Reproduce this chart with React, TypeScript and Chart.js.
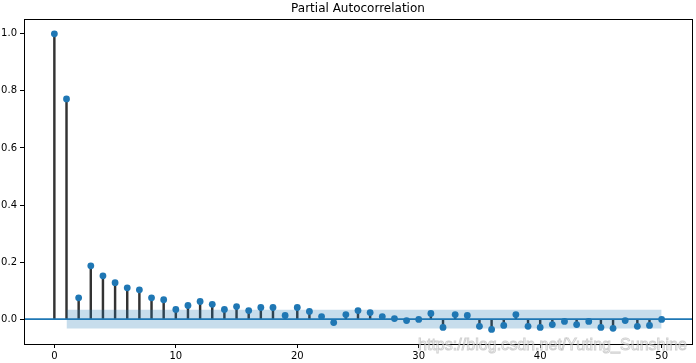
import React, { useEffect, useRef } from "react";
import { Chart, registerables } from "chart.js";

Chart.register(...registerables);

const lags = [
  0, 1, 2, 3, 4, 5, 6, 7, 8, 9, 10, 11, 12, 13, 14, 15, 16, 17, 18, 19, 20,
  21, 22, 23, 24, 25, 26, 27, 28, 29, 30, 31, 32, 33, 34, 35, 36, 37, 38, 39,
  40, 41, 42, 43, 44, 45, 46, 47, 48, 49, 50,
];
const pacfValues = [
  1.0, 0.772, 0.075, 0.187, 0.152, 0.128, 0.11, 0.103, 0.075, 0.068, 0.034,
  0.048, 0.062, 0.052, 0.034, 0.044, 0.03, 0.041, 0.041, 0.013, 0.041, 0.027,
  0.009, -0.012, 0.016, 0.03, 0.023, 0.009, 0.002, -0.005, -0.001, 0.02,
  -0.029, 0.016, 0.013, -0.025, -0.036, -0.022, 0.016, -0.025, -0.029, -0.019,
  -0.008, -0.019, -0.008, -0.029, -0.032, -0.005, -0.025, -0.022, -0.001,
];
const bandLags = [1, 50];
const bandUpper = [0.033, 0.033];
const bandLower = [-0.033, -0.033];
const xTicks = [0, 10, 20, 30, 40, 50];
const yTicks = [0.0, 0.2, 0.4, 0.6, 0.8, 1.0];
const xLimits = [-2.5, 52.5];
const yLimits = [-0.087, 1.052];
const titleText = "Partial Autocorrelation";
const watermarkText = "https://blog.csdn.net/Yuting_Sunshine";

const BLUE = "#1f77b4";
const FONT = "'DejaVu Sans', sans-serif";

export default function App() {
  const ref = useRef<HTMLCanvasElement | null>(null);

  useEffect(() => {
    document.body.style.margin = "0";
    const canvas = ref.current;
    if (!canvas) return;

    const framePlugin = {
      id: "frameAndTitle",
      afterDraw(chart: any) {
        const { ctx, chartArea } = chart;
        ctx.save();
        ctx.strokeStyle = "#000";
        ctx.lineWidth = 1;
        ctx.strokeRect(
          Math.round(chartArea.left) + 0.5,
          Math.round(chartArea.top) + 0.5,
          Math.round(chartArea.right - chartArea.left),
          Math.round(chartArea.bottom - chartArea.top)
        );
        ctx.fillStyle = "#000";
        ctx.font = `12px ${FONT}`;
        ctx.textAlign = "center";
        ctx.textBaseline = "middle";
        ctx.fillText(titleText, (chartArea.left + chartArea.right) / 2, 9);

        // faint watermark
        ctx.font = "17px 'Liberation Sans', sans-serif";
        ctx.textAlign = "left";
        ctx.textBaseline = "alphabetic";
        const w = ctx.measureText(watermarkText).width;
        const targetW = 269;
        ctx.translate(418, 350);
        ctx.scale(targetW / w, 1);
        ctx.lineWidth = 1;
        ctx.strokeStyle = "rgba(150,150,150,0.45)";
        ctx.fillStyle = "rgba(255,255,255,0.55)";
        ctx.fillText(watermarkText, 0, 0);
        ctx.strokeText(watermarkText, 0, 0);
        ctx.restore();
      },
    };

    const chart = new Chart(canvas, {
      type: "bar",
      data: {
        datasets: [
          {
            type: "scatter",
            data: lags.map((x, i) => ({ x, y: pacfValues[i] })),
            backgroundColor: BLUE,
            borderWidth: 0,
            pointRadius: 3.4,
            order: 0,
          } as any,
          {
            type: "line",
            data: xLimits.map((x) => ({ x, y: 0 })),
            borderColor: BLUE,
            borderWidth: 1.8,
            pointRadius: 0,
            fill: false,
            order: 1,
          } as any,
          {
            type: "line",
            data: bandLags.map((x, i) => ({ x, y: bandUpper[i] })),
            borderWidth: 0,
            borderColor: "rgba(0,0,0,0)",
            pointRadius: 0,
            fill: "+1",
            backgroundColor: "rgba(31,119,180,0.25)",
            order: 2,
          } as any,
          {
            type: "line",
            data: bandLags.map((x, i) => ({ x, y: bandLower[i] })),
            borderWidth: 0,
            borderColor: "rgba(0,0,0,0)",
            pointRadius: 0,
            fill: false,
            order: 3,
          } as any,
          {
            type: "bar",
            data: lags.map((x, i) => ({ x, y: pacfValues[i] })),
            backgroundColor: "#333333",
            barThickness: 1.8,
            borderWidth: 0,
            order: 4,
          } as any,
        ],
      },
      options: {
        responsive: false,
        animation: false,
        devicePixelRatio: 1,
        layout: { padding: { top: 19, right: 2, left: 0, bottom: 0 } },
        plugins: {
          legend: { display: false },
          tooltip: { enabled: false },
          title: { display: false },
        },
        scales: {
          x: {
            type: "linear",
            min: xLimits[0],
            max: xLimits[1],
            offset: false,
            grid: {
              display: true,
              offset: false,
              drawOnChartArea: false,
              drawTicks: true,
              tickLength: 4,
              color: "#000",
            },
            border: { display: false },
            ticks: {
              color: "#000",
              font: { family: FONT, size: 10 },
              padding: 2,
              maxRotation: 0,
              callback: (v: any) => String(v),
            },
            afterBuildTicks: (scale: any) => {
              scale.ticks = xTicks.map((value) => ({ value }));
            },
            afterFit: (scale: any) => {
              scale.height = 19;
            },
          },
          y: {
            type: "linear",
            min: yLimits[0],
            max: yLimits[1],
            grid: {
              display: true,
              offset: false,
              drawOnChartArea: false,
              drawTicks: true,
              tickLength: 4,
              color: "#000",
            },
            border: { display: false },
            ticks: {
              color: "#000",
              font: { family: FONT, size: 10 },
              padding: 3,
              callback: (v: any) => Number(v).toFixed(1),
            },
            afterBuildTicks: (scale: any) => {
              scale.ticks = yTicks.map((value) => ({ value }));
            },
            afterFit: (scale: any) => {
              scale.width = 24;
            },
          },
        },
      } as any,
      plugins: [framePlugin],
    });

    return () => chart.destroy();
  }, []);

  return (
    <div style={{ width: 696, height: 363 }}>
      <canvas ref={ref} width={696} height={363} style={{ display: "block" }} />
    </div>
  );
}
